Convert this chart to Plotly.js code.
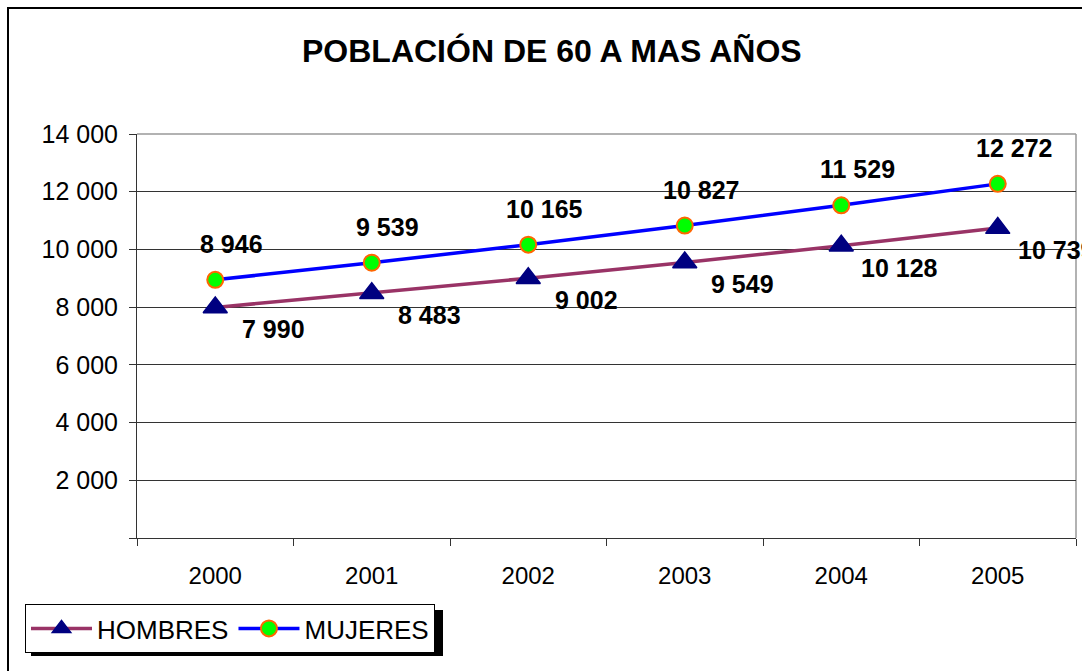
<!DOCTYPE html>
<html>
<head>
<meta charset="utf-8">
<script src="https://cdn.plot.ly/plotly-3.0.1.min.js"></script>
<style>
  html, body { margin:0; padding:0; background:#fff; overflow:hidden; }
  #wrap { position:relative; width:1082px; height:671px; }
  #chart { position:absolute; left:0; top:0; width:1082px; height:671px; }
  #frame { position:absolute; left:7px; top:7px; width:1200px; height:800px; border:2px solid #000; pointer-events:none; }
  #err { position:absolute; left:200px; top:300px; color:red; font-size:14px; }
</style>
</head>
<body>
<div id="wrap">
  <div id="chart"></div>
  <div id="frame"></div>
  <div id="err"></div>
</div>
<script>
// ---- data ----
const years = ['2000', '2001', '2002', '2003', '2004', '2005'];
const hombres = [7990, 8483, 9002, 9549, 10128, 10739];
const mujeres = [8946, 9539, 10165, 10827, 11529, 12272];
const yTicks = [0, 2000, 4000, 6000, 8000, 10000, 12000, 14000];
const titleText = 'POBLACIÓN DE 60 A MAS AÑOS';

const FONT = 'Arial, "Liberation Sans", sans-serif';
function fmt(v) { return String(v).replace(/\B(?=(\d{3})+(?!\d))/g, ' '); }

const traces = [
  {
    type: 'scatter', mode: 'lines+markers', name: 'HOMBRES',
    x: years, y: hombres,
    line: { color: '#993366', width: 3.5 },
    marker: { symbol: 'triangle-up', size: 21, color: '#000080', line: { color: '#000080', width: 1.5 } },
    cliponaxis: false
  },
  {
    type: 'scatter', mode: 'lines+markers', name: 'MUJERES',
    x: years, y: mujeres,
    line: { color: '#0000ff', width: 3.5 },
    marker: { symbol: 'circle', size: 16, color: '#00ff00', line: { color: '#ff6600', width: 2 } },
    cliponaxis: false
  }
];

const annotations = [];
years.forEach(function (yr, i) {
  annotations.push({ x: i, y: mujeres[i], xref: 'x', yref: 'y', text: '<b>' + fmt(mujeres[i]) + '</b>',
    showarrow: false, xshift: 16, yshift: 36,
    font: { family: FONT, size: 25, color: '#000' }, xanchor: 'center', yanchor: 'middle' });
  annotations.push({ x: i, y: hombres[i], xref: 'x', yref: 'y', text: '<b>' + fmt(hombres[i]) + '</b>',
    showarrow: false, xshift: 58, yshift: -22,
    font: { family: FONT, size: 25, color: '#000' }, xanchor: 'center', yanchor: 'middle' });
});

const layout = {
  width: 1082, height: 671,
  margin: { l: 137, r: 6, t: 134, b: 133, pad: 0 },
  paper_bgcolor: '#fff', plot_bgcolor: '#fff',
  font: { family: FONT, color: '#000' },
  title: { text: '<b>' + titleText + '</b>', font: { family: FONT, size: 32, color: '#000' },
           x: 0.51, xanchor: 'center', xref: 'container', y: 1 - 51/671, yanchor: 'middle', yref: 'container' },
  showlegend: true,
  legend: {
    orientation: 'h', xref: 'container', yref: 'container',
    x: 25/1082, y: 1 - 604/671, xanchor: 'left', yanchor: 'top',
    bgcolor: '#fff', bordercolor: '#000', borderwidth: 1,
    font: { family: FONT, size: 26, color: '#000' },
    itemwidth: 61, tracegroupgap: 0
  },
  xaxis: {
    type: 'category', range: [-0.5, 5.5],
    showgrid: false, zeroline: false,
    showline: true, linecolor: '#333', linewidth: 1,
    ticks: 'outside', tickson: 'boundaries', ticklen: 7, tickcolor: '#333', tickwidth: 1,
    tickfont: { family: FONT, size: 24, color: '#000' },
    ticklabelstandoff: 16
  },
  yaxis: {
    range: [0, 14000],
    tickmode: 'array', tickvals: yTicks, ticktext: yTicks.map(function (v) { return v === 0 ? '' : fmt(v); }),
    showgrid: true, gridcolor: '#333', gridwidth: 1, zeroline: false,
    showline: true, linecolor: '#333', linewidth: 1,
    ticks: 'outside', ticklen: 7, tickcolor: '#333', tickwidth: 1,
    tickfont: { family: FONT, size: 25, color: '#000' },
    ticklabelstandoff: 6
  },
  shapes: [
    { type: 'line', xref: 'paper', yref: 'paper', x0: 0, x1: 1, y0: 1, y1: 1, line: { color: '#999', width: 1.5 }, layer: 'above' },
    { type: 'line', xref: 'paper', yref: 'paper', x0: 1, x1: 1, y0: 0, y1: 1, line: { color: '#999', width: 1.5 }, layer: 'below' },
    { type: 'rect', xref: 'paper', yref: 'paper',
      x0: (31-137)/939, x1: (443-137)/939, y0: (538-610)/404, y1: (538-656)/404,
      fillcolor: '#000', line: { width: 0 }, layer: 'below' }
  ],
  annotations: annotations
};

try {
  Plotly.newPlot('chart', traces, layout, { displayModeBar: false, staticPlot: true })
    .catch(function (e) { document.getElementById('err').textContent = 'ERR ' + e; });
} catch (e) { document.getElementById('err').textContent = 'ERR ' + e; }
</script>
</body>
</html>
